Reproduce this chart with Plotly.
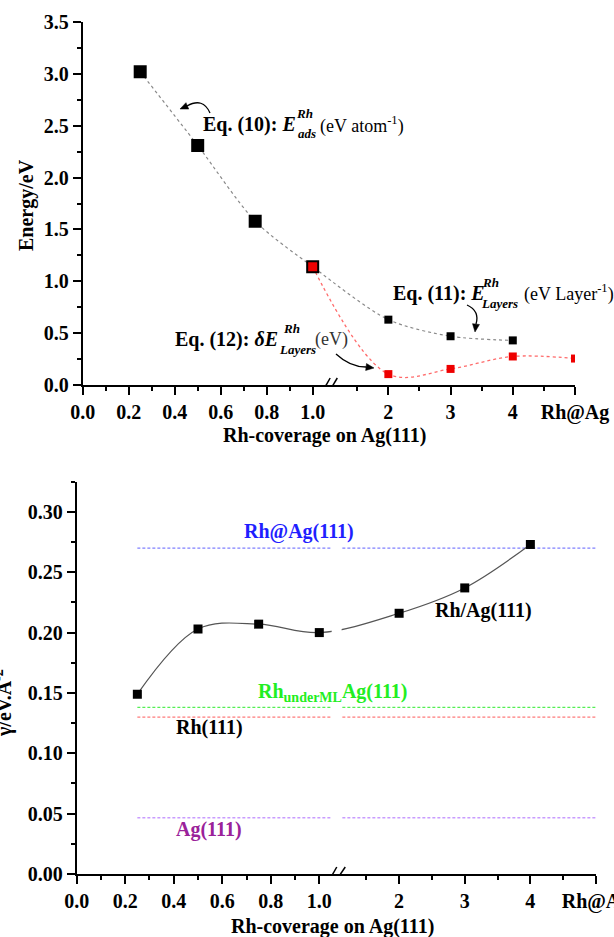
import math
import plotly.graph_objects as go

W, H = 614, 937
FONT = "Liberation Serif"


def px(x):
    return x / W


def py(y):
    return 1 - y / H


# ---------------- data ----------------
coverage = [0.25, 0.5, 0.75, 1.0]          # sub-monolayer Rh coverage
layers = [2, 3, 4]                          # number of Rh layers
RH_AT_AG = 5                                # slot used for the "Rh@Ag" limit
x_tick_vals = [0.0, 0.2, 0.4, 0.6, 0.8, 1.0, 2, 3, 4, RH_AT_AG]
x_tick_text = ["0.0", "0.2", "0.4", "0.6", "0.8", "1.0", "2", "3", "4", "Rh@Ag"]
x_minor_vals = [0.1, 0.3, 0.5, 0.7, 0.9, 1.5, 2.5, 3.5, 4.5]

# top panel (eV)
e_ads = [3.02, 2.31, 1.58, 1.14]            # Eq. (10)
e_layers = [0.63, 0.47, 0.43]               # Eq. (11)
de_layers_x = [1.0, 2, 3, 4, RH_AT_AG]      # Eq. (12)
de_layers = [1.14, 0.105, 0.155, 0.275, 0.255]

# bottom panel (surface energy)
gamma_x = [0.25, 0.5, 0.75, 1.0, 2, 3, 4]
gamma = [0.149, 0.203, 0.207, 0.200, 0.216, 0.237, 0.273]
ref_names = ["Rh@Ag(111)", "RhunderMLAg(111)", "Rh(111)", "Ag(111)"]
ref_values = [0.270, 0.138, 0.130, 0.0466]
ref_line_colors = ["#8080ff", "#55ee55", "#ff7b7b", "#c99cff"]

# broken-axis scale: coverage 0..1 linear, then equally spaced layer slots
LAYER0, LAYER_STEP = 1.329, 0.2705


def xpos(v):
    return v if v <= 1 else LAYER0 + (v - 2) * LAYER_STEP


def xs(vals):
    return [xpos(v) for v in vals]


XMAX = xpos(RH_AT_AG)

fig = go.Figure()

# ---------------- top panel ----------------
fig.add_trace(go.Scatter(
    x=xs(coverage + layers), y=e_ads + e_layers, mode="lines",
    line=dict(color="#8a8a8a", width=1.2, dash="dot", shape="spline", smoothing=0.8),
    xaxis="x", yaxis="y", showlegend=False))
fig.add_trace(go.Scatter(
    x=xs(de_layers_x), y=de_layers, mode="lines",
    line=dict(color="#ff6a6a", width=1.3, dash="dot", shape="spline", smoothing=1.0),
    xaxis="x", yaxis="y", showlegend=False))
fig.add_trace(go.Scatter(
    x=xs(coverage[:3]), y=e_ads[:3], mode="markers",
    marker=dict(symbol="square", size=13, color="black"),
    xaxis="x", yaxis="y", showlegend=False))
fig.add_trace(go.Scatter(
    x=xs(coverage[3:]), y=e_ads[3:], mode="markers",
    marker=dict(symbol="square", size=11, color="#ee0000",
                line=dict(color="black", width=2)),
    xaxis="x", yaxis="y", showlegend=False))
fig.add_trace(go.Scatter(
    x=xs(layers), y=e_layers, mode="markers",
    marker=dict(symbol="square", size=8, color="black"),
    xaxis="x", yaxis="y", showlegend=False))
fig.add_trace(go.Scatter(
    x=xs(de_layers_x[1:]), y=de_layers[1:], mode="markers",
    marker=dict(symbol="square", size=8, color="#ee0000"),
    xaxis="x", yaxis="y", showlegend=False))

# ---------------- bottom panel ----------------
for name, val, col in zip(ref_names, ref_values, ref_line_colors):
    fig.add_trace(go.Scatter(
        x=xs([0.25, RH_AT_AG]), y=[val, val], mode="lines",
        line=dict(color=col, width=1.4, dash="3px,2px"),
        xaxis="x2", yaxis="y2", showlegend=False, name=name))
fig.add_trace(go.Scatter(
    x=xs(gamma_x), y=gamma, mode="lines",
    line=dict(color="#555555", width=1.2, shape="spline", smoothing=1.0),
    xaxis="x2", yaxis="y2", showlegend=False))
fig.add_trace(go.Scatter(
    x=xs(gamma_x), y=gamma, mode="markers",
    marker=dict(symbol="square", size=9, color="black"),
    xaxis="x2", yaxis="y2", showlegend=False))

tickfont = dict(family=FONT, size=20, color="black", weight="bold")


def xaxis_cfg(domain, anchor):
    return dict(domain=domain, anchor=anchor, range=[0, XMAX], automargin=False,
                ticklabeloverflow="allow",
                tickvals=xs(x_tick_vals), ticktext=x_tick_text,
                ticks="outside", ticklen=8, tickwidth=1.5, tickcolor="black",
                showline=True, linecolor="black", linewidth=2,
                showgrid=False, zeroline=False, tickfont=tickfont,
                minor=dict(tickvals=xs(x_minor_vals), ticks="outside", ticklen=4,
                           tickwidth=1.5, tickcolor="black"))


def yaxis_cfg(domain, anchor, rng, dtick, fmt, minor_vals):
    return dict(domain=domain, anchor=anchor, range=rng, dtick=dtick, tick0=0,
                automargin=False, ticklabeloverflow="allow",
                tickformat=fmt, ticks="outside", ticklen=8, tickwidth=1.5,
                tickcolor="black", showline=True, linecolor="black", linewidth=2,
                showgrid=False, zeroline=False, tickfont=tickfont,
                minor=dict(tickvals=minor_vals, ticks="outside", ticklen=4,
                           tickwidth=1.5, tickcolor="black"))


top_minor = [0.25 + 0.5 * i for i in range(7)]
bot_minor = [0.025 + 0.05 * i for i in range(7)]

shapes = []
# gap in the bottom-panel lines at the axis break
shapes.append(dict(type="rect", xref="x2", yref="y2", x0=1.051, x1=1.092,
                   y0=0.008, y1=0.33, fillcolor="white", line=dict(width=0),
                   layer="above"))
# break marks "//"
for xr, yr, pairs in [("x", "y", [(1.039, 1.076), (1.068, 1.107)]),
                      ("x2", "y2", [(1.037, 1.072), (1.065, 1.107)])]:
    for a, b in pairs:
        shapes.append(dict(type="line", xref=xr, yref=yr, ysizemode="pixel",
                           yanchor=0, x0=a, x1=b, y0=-8, y1=7,
                           line=dict(color="black", width=1.5), layer="above"))


def qpath(p0, c, p1):
    return "M {},{} Q {},{} {},{}".format(px(p0[0]), py(p0[1]), px(c[0]), py(c[1]),
                                          px(p1[0]), py(p1[1]))


def arrowhead(tip, frm, length=8, half=3.5):
    dx, dy = tip[0] - frm[0], tip[1] - frm[1]
    n = math.hypot(dx, dy)
    ux, uy = dx / n, dy / n
    bx, by = tip[0] - ux * length, tip[1] - uy * length
    l = (bx - uy * half, by + ux * half)
    r = (bx + uy * half, by - ux * half)
    return "M {},{} L {},{} L {},{} Z".format(px(tip[0]), py(tip[1]), px(l[0]), py(l[1]),
                                             px(r[0]), py(r[1]))


# curved arrows: (start, control, end, tip)
for p0, c, p1, tip in [((210, 113), (203, 97), (187, 106), (180, 109)),
                       ((467, 305), (480, 311), (476, 324), (475, 332)),
                       ((336, 354), (350, 367), (366, 367), (374, 368))]:
    shapes.append(dict(type="path", xref="paper", yref="paper",
                       path=qpath(p0, c, p1), line=dict(color="black", width=1.3)))
    shapes.append(dict(type="path", xref="paper", yref="paper",
                       path=arrowhead(tip, p1), fillcolor="black",
                       line=dict(color="black", width=0.5)))

annotations = []


def ann(text, x, y, size=20, color="black", xanchor="center", yanchor="middle", angle=0):
    annotations.append(dict(text=text, x=px(x), y=py(y), xref="paper", yref="paper",
                            showarrow=False, xanchor=xanchor, yanchor=yanchor,
                            textangle=angle,
                            font=dict(family=FONT, size=size, color=color)))


# Eq. (10)
ann("<b>Eq. (10): <i>E</i></b>", 298, 125, xanchor="right")
ann("<b><i>Rh</i></b>", 294, 114, size=13, xanchor="left")
ann("<b><i>ads</i></b>", 296, 134, size=13, xanchor="left")
ann("(eV atom<sup>-1</sup>)", 318, 125, size=18, xanchor="left")
# Eq. (11)
ann("<b>Eq. (11): <i>E</i></b>", 487, 293, xanchor="right")
ann("<b><i>Rh</i></b>", 480, 282, size=13, xanchor="left")
ann("<b><i>Layers</i></b>", 479, 303, size=13, xanchor="left")
ann("(eV Layer<sup>-1</sup>)", 522, 293, size=18, xanchor="left")
# Eq. (12)
ann("<b>Eq. (12): <i>δE</i></b>", 280, 340, xanchor="right")
ann("<b><i>Rh</i></b>", 281, 329, size=13, xanchor="left")
ann("<b><i>Layers</i></b>", 277, 349, size=13, xanchor="left")
ann("(eV)", 313, 340, size=18, color="#333333", xanchor="left")

# axis titles
ann("<b>Energy/eV</b>", 26, 205, angle=-90)
ann("<b>Rh-coverage on Ag(111)</b>", 324, 435)
ann("<b>γ/eV.Å<sup>-2</sup></b>", 3, 703, size=20, angle=-90)
ann("<b>Rh-coverage on Ag(111)</b>", 332, 926)

# bottom-panel labels
ann("<b>Rh@Ag(111)</b>", 299, 531, color="#1f1fff")
ann("<b>Rh/Ag(111)</b>", 483, 610)
ann("<b>Rh<sub>underML</sub>Ag(111)</b>", 256, 692, color="#22ee22", xanchor="left")
ann("<b>Rh(111)</b>", 209, 727)
ann("<b>Ag(111)</b>", 209, 829, color="#9a229a")

fig.update_layout(
    width=W, height=H, margin=dict(l=0, r=0, t=0, b=0),
    paper_bgcolor="white", plot_bgcolor="white", showlegend=False,
    xaxis=xaxis_cfg([px(82.7), px(575)], "y"),
    yaxis=yaxis_cfg([py(385), py(22)], "x", [0, 3.5], 0.5, ".1f", top_minor),
    xaxis2=xaxis_cfg([px(76.7), px(596)], "y2"),
    yaxis2=yaxis_cfg([py(874), py(481.7)], "x2", [0, 0.325], 0.05, ".2f",
                     bot_minor + [0.325]),
    shapes=shapes, annotations=annotations,
)

fig.write_html("out.html")
